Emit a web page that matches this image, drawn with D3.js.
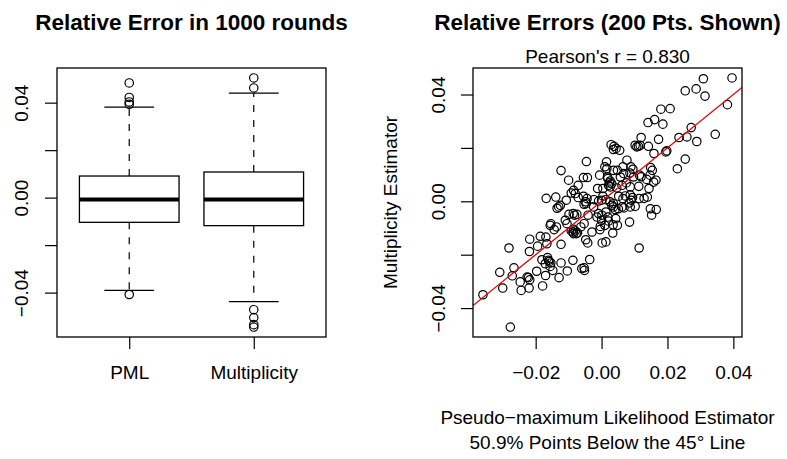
<!DOCTYPE html>
<html>
<head>
<meta charset="utf-8">
<script src="https://cdn.jsdelivr.net/npm/d3@7"></script>
<style>
  body { margin: 0; background: #fff; }
  text { font-family: "Liberation Sans", Arial, sans-serif; fill: #000; }
</style>
</head>
<body>
<script>
// box plot summary (lower whisker, Q1, median, Q3, upper whisker)
const boxNames = ["PML", "Multiplicity"];
const pmlStats = [-0.0391, -0.0104, -0.0008, 0.0091, 0.0381];
const multStats = [-0.0438, -0.0118, -0.0008, 0.0108, 0.0440];
const pmlOutliers = [0.0483, 0.0422, 0.0403, 0.0393, -0.0408];
const multOutliers = [0.0504, 0.0462, -0.0472, -0.0505, -0.0535, -0.0545];

// scatter: 200 shown points (PML error, Multiplicity error)
const pmlErr = [
  0.0396, 0.0309, 0.0254, 0.0287, 0.0314, 0.0382, 0.0180, 0.0208, 0.0141, 0.0161,
  0.0186, 0.0272, 0.0345, 0.0235, 0.0259, 0.0289, 0.0173, 0.0120, 0.0029, 0.0044,
  0.0055, 0.0036, 0.0102, 0.0112, 0.0117, 0.0142, 0.0159, 0.0198, 0.0195, 0.0254,
  0.0230, -0.0046, 0.0015, 0.0010, 0.0016, 0.0048, 0.0065, 0.0089, 0.0095, 0.0077,
  -0.0123, -0.0100, -0.0071, -0.0055, -0.0043, -0.0006, 0.0018, 0.0026, 0.0057, 0.0067,
  0.0086, 0.0097, 0.0115, 0.0120, 0.0137, 0.0149, 0.0154, 0.0165, 0.0158, -0.0012,
  0.0004, 0.0021, 0.0031, 0.0026, 0.0046, 0.0062, 0.0075, 0.0087, 0.0113, 0.0144,
  -0.0085, -0.0080, -0.0092, -0.0071, -0.0055, -0.0044, -0.0048, -0.0053, -0.0023, -0.0009,
  0.0000, 0.0013, 0.0026, 0.0036, 0.0031, 0.0052, 0.0065, 0.0072, 0.0087, 0.0094,
  0.0102, 0.0114, 0.0129, 0.0139, -0.0168, -0.0139, -0.0107, -0.0135, -0.0130, -0.0125,
  -0.0086, -0.0082, -0.0075, -0.0099, -0.0041, -0.0024, -0.0009, 0.0001, 0.0013, 0.0019,
  0.0036, 0.0041, 0.0051, 0.0062, 0.0068, 0.0084, 0.0087, 0.0148, 0.0166, 0.0152,
  -0.0154, -0.0156, -0.0144, -0.0137, -0.0110, -0.0105, -0.0085, -0.0087, -0.0077, -0.0092,
  -0.0063, -0.0053, -0.0029, -0.0048, -0.0042, -0.0005, 0.0000, 0.0010, 0.0021, 0.0035,
  0.0048, 0.0043, 0.0034, 0.0085, 0.0002, 0.0013, 0.0114, -0.0218, -0.0186, -0.0169,
  -0.0166, -0.0194, -0.0219, -0.0281, -0.0181, -0.0161, -0.0154, -0.0171, -0.0156, -0.0148,
  -0.0123, -0.0104, -0.0087, -0.0060, -0.0053, -0.0036, -0.0052, -0.0123, -0.0309, -0.0266,
  -0.0271, -0.0197, -0.0222, -0.0218, -0.0247, -0.0220, -0.0244, -0.0179, -0.0170, -0.0129,
  -0.0300, -0.0360, -0.0277, -0.0085, -0.0080, -0.0073, 0.0019, 0.0024, 0.0004, 0.0090,
  0.0107, -0.0159, -0.0164, -0.0014, 0.0036, -0.0047, 0.0147, -0.0004, -0.0226, 0.0038
];
const multErr = [
  0.0462, 0.0459, 0.0414, 0.0421, 0.0394, 0.0362, 0.0345, 0.0347, 0.0295, 0.0306,
  0.0289, 0.0276, 0.0251, 0.0239, 0.0241, 0.0224, 0.0232, 0.0239, 0.0212, 0.0198,
  0.0191, 0.0194, 0.0210, 0.0206, 0.0210, 0.0206, 0.0179, 0.0189, 0.0185, 0.0158,
  0.0122, 0.0149, 0.0148, 0.0129, 0.0122, 0.0116, 0.0129, 0.0129, 0.0120, 0.0154,
  0.0115, 0.0079, 0.0060, 0.0089, 0.0089, 0.0098, 0.0091, 0.0076, 0.0091, 0.0104,
  0.0106, 0.0091, 0.0098, 0.0092, 0.0082, 0.0126, 0.0116, 0.0079, 0.0072, 0.0048,
  0.0048, 0.0060, 0.0066, 0.0054, 0.0050, 0.0060, 0.0069, 0.0054, 0.0056, 0.0048,
  0.0041, 0.0029, 0.0031, 0.0014, 0.0019, 0.0010, -0.0002, -0.0011, 0.0006, 0.0001,
  0.0004, 0.0006, -0.0002, -0.0009, -0.0015, 0.0019, 0.0010, 0.0020, 0.0024, 0.0014,
  -0.0019, 0.0010, 0.0011, 0.0016, 0.0011, 0.0016, 0.0004, -0.0026, -0.0021, -0.0015,
  -0.0046, -0.0052, -0.0049, -0.0049, -0.0052, -0.0021, -0.0046, -0.0052, -0.0040, -0.0059,
  -0.0021, -0.0031, -0.0028, -0.0021, -0.0025, -0.0006, -0.0021, -0.0028, -0.0031, -0.0052,
  -0.0084, -0.0090, -0.0106, -0.0096, -0.0071, -0.0084, -0.0105, -0.0115, -0.0121, -0.0111,
  -0.0096, -0.0084, -0.0115, -0.0144, -0.0156, -0.0106, -0.0071, -0.0090, -0.0074, -0.0088,
  -0.0090, -0.0065, -0.0119, -0.0078, -0.0156, -0.0152, -0.0175, -0.0142, -0.0131, -0.0134,
  -0.0159, -0.0168, -0.0188, -0.0175, -0.0219, -0.0221, -0.0231, -0.0234, -0.0244, -0.0259,
  -0.0231, -0.0261, -0.0221, -0.0252, -0.0249, -0.0218, -0.0259, -0.0161, -0.0266, -0.0249,
  -0.0279, -0.0262, -0.0286, -0.0294, -0.0302, -0.0325, -0.0334, -0.0317, -0.0278, -0.0286,
  -0.0325, -0.0350, -0.0471, -0.0121, -0.0111, -0.0118, 0.0085, 0.0069, 0.0019, 0.0004,
  0.0204, -0.0226, -0.0211, -0.0059, 0.0116, -0.0009, 0.0098, -0.0094, -0.0284, 0.0206
];

const yTicks = [-0.04, -0.02, 0, 0.02, 0.04];
const yTickLabels = [-0.04, 0, 0.04];
const xTicks = [-0.02, 0, 0.02, 0.04];
const pearson = "0.830";
const belowPct = "50.9%";

const width = 787, height = 459;
const fmt = d3.format(".2f");
const tickLen = 12;
const pointR = 4.2;

// R style: pad the data range by 4% on each side
function padded(ext) {
    const r = ext[1] - ext[0];
    return [ext[0] - 0.04 * r, ext[1] + 0.04 * r];
}

const svg = d3.select("body").append("svg")
    .attr("width", width)
    .attr("height", height);

// ---------- left panel: box plot ----------
const left = { x0: 57, x1: 326, y0: 68, y1: 337 };

const allBox = pmlStats.concat(multStats, pmlOutliers, multOutliers);
const yBox = d3.scaleLinear()
    .domain(padded(d3.extent(allBox)))
    .range([left.y1, left.y0]);

const xBox = d3.scaleLinear()
    .domain([0.42, 2.58])
    .range([left.x0, left.x1]);

const gL = svg.append("g");

const boxes = [
    { name: boxNames[0], pos: 1, s: pmlStats, out: pmlOutliers },
    { name: boxNames[1], pos: 2, s: multStats, out: multOutliers }
];
const halfW = 0.4;

boxes.forEach(b => {
    const cx = xBox(b.pos);
    const bw = xBox(b.pos + halfW) - cx;
    // whiskers (dashed)
    gL.append("line")
        .attr("x1", cx).attr("x2", cx)
        .attr("y1", yBox(b.s[3])).attr("y2", yBox(b.s[4]))
        .attr("stroke", "#000").attr("stroke-width", 1.2)
        .attr("stroke-dasharray", "7,8");
    gL.append("line")
        .attr("x1", cx).attr("x2", cx)
        .attr("y1", yBox(b.s[1])).attr("y2", yBox(b.s[0]))
        .attr("stroke", "#000").attr("stroke-width", 1.2)
        .attr("stroke-dasharray", "7,8");
    // staples
    [b.s[0], b.s[4]].forEach(v => {
        gL.append("line")
            .attr("x1", cx - bw / 2).attr("x2", cx + bw / 2)
            .attr("y1", yBox(v)).attr("y2", yBox(v))
            .attr("stroke", "#000").attr("stroke-width", 1.3);
    });
    // box
    gL.append("rect")
        .attr("x", cx - bw)
        .attr("y", yBox(b.s[3]))
        .attr("width", 2 * bw)
        .attr("height", yBox(b.s[1]) - yBox(b.s[3]))
        .attr("fill", "#fff")
        .attr("stroke", "#000").attr("stroke-width", 1.3);
    // median
    gL.append("line")
        .attr("x1", cx - bw).attr("x2", cx + bw)
        .attr("y1", yBox(b.s[2])).attr("y2", yBox(b.s[2]))
        .attr("stroke", "#000").attr("stroke-width", 4);
    // outliers
    gL.selectAll(null)
        .data(b.out)
        .enter().append("circle")
        .attr("cx", cx)
        .attr("cy", d => yBox(d))
        .attr("r", pointR)
        .attr("fill", "none")
        .attr("stroke", "#000").attr("stroke-width", 1.2);
});

gL.append("rect")
    .attr("x", left.x0).attr("y", left.y0)
    .attr("width", left.x1 - left.x0).attr("height", left.y1 - left.y0)
    .attr("fill", "none").attr("stroke", "#000").attr("stroke-width", 1.3);

function styleYAxis(g, off) {
    g.select(".domain").remove();
    g.selectAll(".tick line").attr("stroke", "#000").attr("stroke-width", 1.2);
    g.selectAll(".tick text")
        .attr("transform", "rotate(-90)")
        .attr("x", 0).attr("y", off).attr("dy", 0)
        .attr("text-anchor", "middle")
        .style("font-size", "19px");
}

function styleXAxis(g, off) {
    g.select(".domain").remove();
    g.selectAll(".tick line").attr("stroke", "#000").attr("stroke-width", 1.2);
    g.selectAll(".tick text")
        .attr("y", off).attr("dy", 0)
        .style("font-size", "19px");
}

gL.append("g")
    .attr("transform", "translate(" + left.x0 + ",0)")
    .call(d3.axisLeft(yBox)
        .tickValues(yTicks)
        .tickSize(tickLen)
        .tickFormat(d => yTickLabels.some(v => Math.abs(v - d) < 1e-9) ? fmt(d) : ""))
    .call(g => styleYAxis(g, -29));

gL.append("g")
    .attr("transform", "translate(0," + left.y1 + ")")
    .call(d3.axisBottom(xBox)
        .tickValues([1, 2])
        .tickSize(tickLen)
        .tickFormat((d, i) => boxNames[i]))
    .call(g => styleXAxis(g, 42));

gL.append("text")
    .attr("x", (left.x0 + left.x1) / 2).attr("y", 30)
    .attr("text-anchor", "middle")
    .style("font-size", "22.5px").style("font-weight", "bold")
    .text("Relative Error in 1000 rounds");

// ---------- right panel: scatter ----------
const right = { x0: 473, x1: 742, y0: 68, y1: 337 };
const points = pmlErr.map((d, i) => ({ x: d, y: multErr[i] }));

const x = d3.scaleLinear()
    .domain(padded(d3.extent(pmlErr)))
    .range([right.x0, right.x1]);
const y = d3.scaleLinear()
    .domain(padded(d3.extent(multErr)))
    .range([right.y1, right.y0]);

const gR = svg.append("g");

gR.append("clipPath").attr("id", "clipR")
    .append("rect")
    .attr("x", right.x0).attr("y", right.y0)
    .attr("width", right.x1 - right.x0).attr("height", right.y1 - right.y0);

gR.selectAll("circle")
    .data(points)
    .enter().append("circle")
    .attr("cx", d => x(d.x))
    .attr("cy", d => y(d.y))
    .attr("r", pointR)
    .attr("fill", "none")
    .attr("stroke", "#000").attr("stroke-width", 1.2);

// 45 degree line
const xd = x.domain();
gR.append("line")
    .attr("clip-path", "url(#clipR)")
    .attr("x1", x(xd[0])).attr("y1", y(xd[0]))
    .attr("x2", x(xd[1])).attr("y2", y(xd[1]))
    .attr("stroke", "#e8000b").attr("stroke-width", 1.3);

gR.append("rect")
    .attr("x", right.x0).attr("y", right.y0)
    .attr("width", right.x1 - right.x0).attr("height", right.y1 - right.y0)
    .attr("fill", "none").attr("stroke", "#000").attr("stroke-width", 1.3);

gR.append("g")
    .attr("transform", "translate(" + right.x0 + ",0)")
    .call(d3.axisLeft(y)
        .tickValues(yTicks)
        .tickSize(tickLen)
        .tickFormat(d => yTickLabels.some(v => Math.abs(v - d) < 1e-9) ? fmt(d) : ""))
    .call(g => styleYAxis(g, -28.5));

gR.append("g")
    .attr("transform", "translate(0," + right.y1 + ")")
    .call(d3.axisBottom(x)
        .tickValues(xTicks)
        .tickSize(tickLen)
        .tickFormat(fmt))
    .call(g => styleXAxis(g, 42));

const cxR = (right.x0 + right.x1) / 2;

gR.append("text")
    .attr("x", cxR).attr("y", 30)
    .attr("text-anchor", "middle")
    .style("font-size", "22.5px").style("font-weight", "bold")
    .text("Relative Errors (200 Pts. Shown)");

gR.append("text")
    .attr("x", cxR).attr("y", 63)
    .attr("text-anchor", "middle")
    .style("font-size", "19px")
    .text("Pearson's r = " + pearson);

gR.append("text")
    .attr("transform", "translate(397," + (right.y0 + right.y1) / 2 + ") rotate(-90)")
    .attr("text-anchor", "middle")
    .style("font-size", "19px")
    .text("Multiplicity Estimator");

gR.append("text")
    .attr("x", cxR).attr("y", 424)
    .attr("text-anchor", "middle")
    .style("font-size", "19px")
    .text("Pseudo\u2212maximum Likelihood Estimator");

gR.append("text")
    .attr("x", cxR).attr("y", 449)
    .attr("text-anchor", "middle")
    .style("font-size", "19px")
    .text(belowPct + " Points Below the 45\u00b0 Line");
</script>
</body>
</html>
